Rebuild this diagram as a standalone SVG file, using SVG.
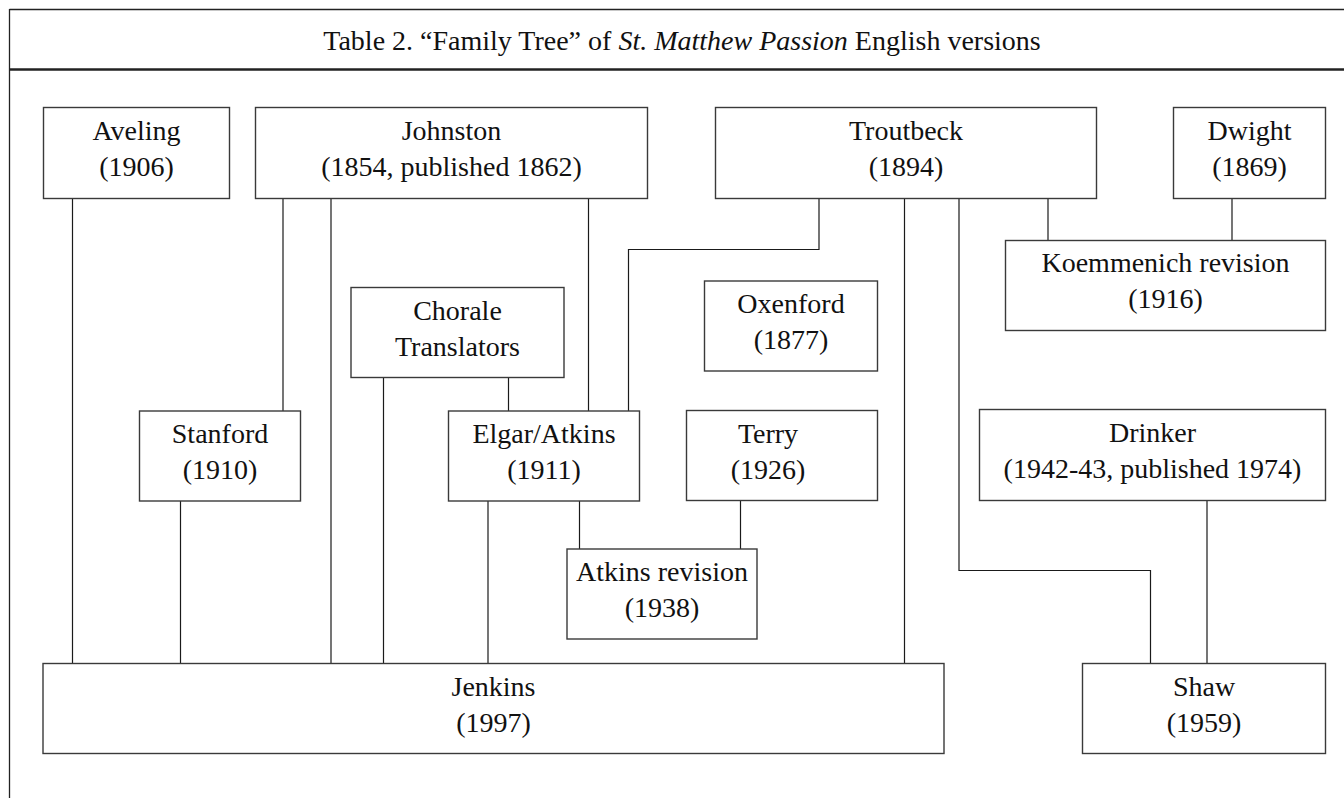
<svg xmlns="http://www.w3.org/2000/svg" width="1344" height="798" viewBox="0 0 1344 798">
<style>
.box{fill:#fff;stroke:#3a3a3a;stroke-width:1.4}
.ln{fill:none;stroke:#1a1a1a;stroke-width:1.2}
text{font-family:"Liberation Serif","Times New Roman",serif;font-size:28px;fill:#111;text-anchor:middle}
.title{font-size:28px}
</style>
<rect width="1344" height="798" fill="#fff"/>
<g id="frame">
<line x1="9.5" y1="9.5" x2="1344" y2="9.5" stroke="#222" stroke-width="1.3"/>
<line x1="9.5" y1="9" x2="9.5" y2="798" stroke="#222" stroke-width="1.3"/>
<line x1="9" y1="69.5" x2="1344" y2="69.5" stroke="#222" stroke-width="2.5"/>
<text class="title" x="682" y="50">Table 2. “Family Tree” of <tspan font-style="italic">St. Matthew Passion</tspan> English versions</text>
</g>
<g id="connectors">
<path class="ln" d="M72.5 198V663"/>
<path class="ln" d="M283 198V411"/>
<path class="ln" d="M331 198V663"/>
<path class="ln" d="M588.5 198V411"/>
<path class="ln" d="M819 198V249.5H628.5V411"/>
<path class="ln" d="M904.5 198V663"/>
<path class="ln" d="M959 198V570.5H1150.5V663"/>
<path class="ln" d="M1048 198V240"/>
<path class="ln" d="M1232 198V240"/>
<path class="ln" d="M383.5 377V663"/>
<path class="ln" d="M508.5 377V411"/>
<path class="ln" d="M488 501V663"/>
<path class="ln" d="M579.5 501V549"/>
<path class="ln" d="M740.5 500V549"/>
<path class="ln" d="M180.5 501V663"/>
<path class="ln" d="M1207 501V663"/>
</g>
<g id="aveling"><rect class="box" x="43.5" y="107.5" width="186" height="91"/><text x="136.5" y="140">Aveling</text><text x="136.5" y="176">(1906)</text></g>
<g id="johnston"><rect class="box" x="255.5" y="107.5" width="392" height="91"/><text x="451.5" y="140">Johnston</text><text x="451.5" y="176">(1854, published 1862)</text></g>
<g id="troutbeck"><rect class="box" x="715.5" y="107.5" width="381" height="91"/><text x="906" y="140">Troutbeck</text><text x="906" y="176">(1894)</text></g>
<g id="dwight"><rect class="box" x="1173.5" y="107.5" width="152" height="91"/><text x="1249.5" y="140">Dwight</text><text x="1249.5" y="176">(1869)</text></g>
<g id="koemmenich"><rect class="box" x="1005.5" y="240.5" width="320" height="90"/><text x="1165.5" y="272">Koemmenich revision</text><text x="1165.5" y="308">(1916)</text></g>
<g id="chorale"><rect class="box" x="351" y="287.5" width="213" height="90"/><text x="457.5" y="320">Chorale</text><text x="457.5" y="356">Translators</text></g>
<g id="oxenford"><rect class="box" x="704.5" y="281" width="173" height="90"/><text x="791" y="313">Oxenford</text><text x="791" y="349">(1877)</text></g>
<g id="stanford"><rect class="box" x="139.5" y="411" width="161" height="90"/><text x="220" y="443">Stanford</text><text x="220" y="479">(1910)</text></g>
<g id="elgar"><rect class="box" x="448.5" y="411" width="191" height="90"/><text x="544" y="443">Elgar/Atkins</text><text x="544" y="479">(1911)</text></g>
<g id="terry"><rect class="box" x="686.5" y="410.5" width="191" height="90"/><text x="768" y="443">Terry</text><text x="768" y="479">(1926)</text></g>
<g id="drinker"><rect class="box" x="979.5" y="409.5" width="346" height="91"/><text x="1152.5" y="442">Drinker</text><text x="1152.5" y="478">(1942-43, published 1974)</text></g>
<g id="atkins-revision"><rect class="box" x="567" y="549" width="190" height="90"/><text x="662" y="581">Atkins revision</text><text x="662" y="617">(1938)</text></g>
<g id="jenkins"><rect class="box" x="43" y="663.5" width="901" height="90"/><text x="493.5" y="696">Jenkins</text><text x="493.5" y="732">(1997)</text></g>
<g id="shaw"><rect class="box" x="1082.5" y="663.5" width="243" height="90"/><text x="1204" y="696">Shaw</text><text x="1204" y="732">(1959)</text></g>
</svg>
